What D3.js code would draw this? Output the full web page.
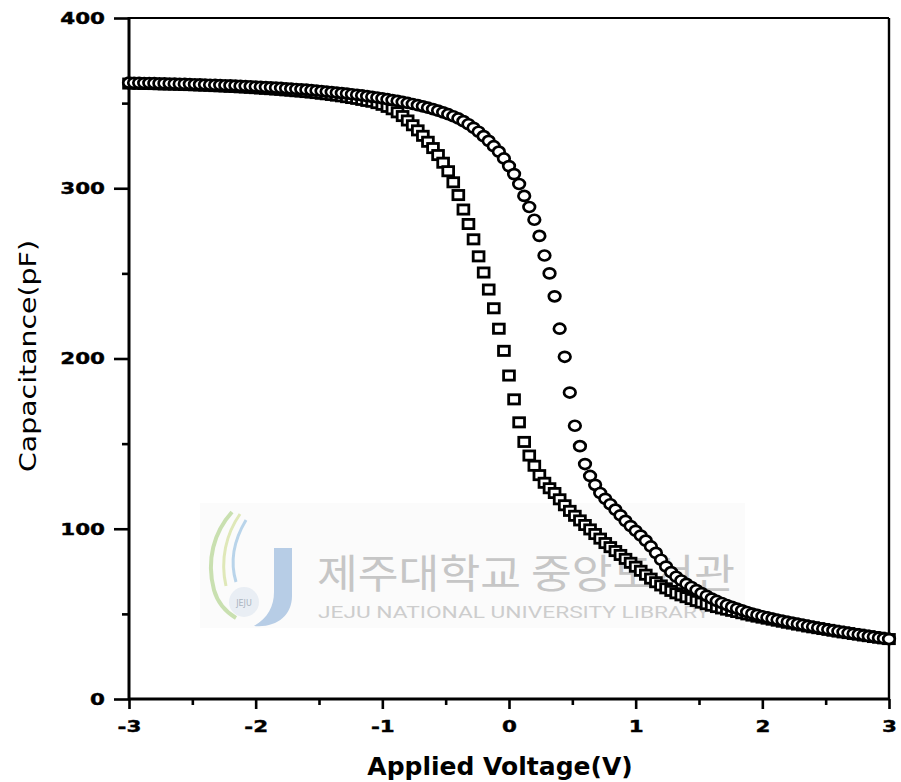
<!DOCTYPE html>
<html>
<head>
<meta charset="utf-8">
<script src="https://cdn.jsdelivr.net/npm/d3@7"></script>
<style>
  html, body { margin: 0; padding: 0; background: #fff; }
  svg { display: block; }
</style>
</head>
<body>
<svg id="chart" width="901" height="782"></svg>
<script>
// C-V sweep: bias from -3 V to +3 V in 0.04 V steps
const voltStart = -3;
const voltStep = 0.04;

// Capacitance (pF), square markers
const squareCap = [
  361.5, 361.5, 361.4, 361.3, 361.3, 361.2, 361.1, 361.0, 361.0, 360.9,
  360.8, 360.7, 360.6, 360.5, 360.4, 360.3, 360.2, 360.0, 359.9, 359.8,
  359.6, 359.5, 359.3, 359.2, 359.0, 358.8, 358.6, 358.4, 358.2, 358.0,
  357.8, 357.5, 357.3, 357.0, 356.8, 356.5, 356.2, 355.9, 355.5, 355.2,
  354.8, 354.4, 354.0, 353.5, 353.0, 352.5, 351.9, 351.3, 350.8, 350.0,
  349.0, 347.8, 346.4, 344.6, 342.4, 339.8, 337.0, 334.0, 330.8, 327.3,
  323.6, 319.5, 315.0, 310.0, 303.5, 296.0, 287.5, 279.0, 270.0, 260.0,
  250.5, 240.5, 229.5, 217.5, 204.5, 190.0, 176.0, 162.5, 151.0, 143.0,
  137.0, 131.5, 127.0, 123.8, 121.0, 117.3, 113.8, 110.5, 107.6, 104.9,
  102.2, 99.6, 96.9, 94.2, 91.6, 89.2, 86.9, 84.6, 82.3, 80.0,
  77.7, 75.3, 73.0, 70.7, 68.6, 66.7, 65.0, 63.5, 62.1, 60.9,
  59.8, 58.7, 57.6, 56.6, 55.7, 54.8, 54.0, 53.2, 52.5, 51.8,
  51.1, 50.4, 49.7, 49.0, 48.4, 47.8, 47.2, 46.6, 46.0, 45.4,
  44.8, 44.3, 43.7, 43.2, 42.6, 42.1, 41.6, 41.1, 40.6, 40.1,
  39.6, 39.1, 38.7, 38.2, 37.8, 37.3, 36.9, 36.4, 36.0, 35.6,
  35.2
];

// Capacitance (pF), circle markers
const circleCap = [
  362.0, 361.9, 361.9, 361.8, 361.8, 361.7, 361.6, 361.6, 361.5, 361.4,
  361.3, 361.3, 361.2, 361.1, 361.0, 360.9, 360.8, 360.7, 360.6, 360.5,
  360.4, 360.3, 360.1, 360.0, 359.9, 359.7, 359.6, 359.4, 359.3, 359.1,
  358.9, 358.7, 358.5, 358.3, 358.1, 357.9, 357.6, 357.4, 357.1, 356.8,
  356.5, 356.2, 355.9, 355.6, 355.2, 354.9, 354.5, 354.1, 353.7, 353.3,
  352.8, 352.3, 351.8, 351.3, 350.7, 350.1, 349.5, 348.8, 348.1, 347.3,
  346.5, 345.6, 344.6, 343.5, 342.3, 341.0, 339.4, 337.6, 335.5, 333.2,
  330.6, 327.8, 324.7, 321.5, 317.5, 313.0, 308.3, 302.5, 295.5, 289.0,
  281.5, 272.0, 260.5, 250.0, 236.5, 217.5, 201.0, 180.0, 160.5, 148.5,
  138.0, 131.0, 125.8, 121.0, 117.6, 114.4, 111.2, 107.9, 104.6, 101.6,
  98.8, 96.0, 93.0, 89.6, 85.8, 81.8, 77.8, 74.5, 71.8, 69.6,
  67.6, 65.8, 64.0, 62.2, 60.6, 59.0, 57.6, 56.4, 55.2, 54.1,
  53.1, 52.1, 51.1, 50.2, 49.4, 48.6, 47.9, 47.2, 46.5, 45.9,
  45.3, 44.7, 44.1, 43.5, 42.9, 42.4, 41.8, 41.3, 40.8, 40.3,
  39.8, 39.3, 38.8, 38.3, 37.9, 37.4, 36.9, 36.5, 36.0, 35.6,
  35.2
];

const xTicks = [-3, -2, -1, 0, 1, 2, 3];
const xMinorTicks = [-2.5, -1.5, -0.5, 0.5, 1.5, 2.5];
const yTicks = [0, 100, 200, 300, 400];
const yMinorTicks = [50, 150, 250, 350];

const xTitle = "Applied Voltage(V)";
const yTitle = "Capacitance(pF)";
const wmKorean = "제주대학교 중앙도서관";
const wmEnglish = "JEJU NATIONAL UNIVERSITY  LIBRARY";

const svg = d3.select("#chart");
const plotL = 129, plotR = 889, plotT = 18, plotB = 699;

const x = d3.scaleLinear().domain([-3, 3]).range([plotL, plotR]);
const y = d3.scaleLinear().domain([0, 400]).range([plotB, plotT]);

svg.append("rect").attr("width", 901).attr("height", 782).attr("fill", "#fff");

// Faint library watermark behind the data
const wm = svg.append("g").attr("class", "watermark");
wm.append("rect")
  .attr("x", 200).attr("y", 503).attr("width", 545).attr("height", 125)
  .attr("fill", "#fbfbfb");
wm.append("path")
  .attr("d", "M232,512 C214,532 206,560 214,590 C218,604 226,612 236,618")
  .attr("fill", "none").attr("stroke", "#c9e0b0").attr("stroke-width", 4);
wm.append("path")
  .attr("d", "M240,514 C226,534 220,560 226,586")
  .attr("fill", "none").attr("stroke", "#dfe8b8").attr("stroke-width", 3);
wm.append("path")
  .attr("d", "M246,520 C234,540 230,562 236,582")
  .attr("fill", "none").attr("stroke", "#b9d4ea").attr("stroke-width", 3);
wm.append("path")
  .attr("d", "M274,548 L292,548 L292,596 C292,616 276,628 254,626 C268,618 274,606 274,592 Z")
  .attr("fill", "#b7cde6");
wm.append("circle").attr("cx", 244).attr("cy", 602).attr("r", 15).attr("fill", "#e9eef4");
wm.append("text")
  .attr("x", 244).attr("y", 606).attr("text-anchor", "middle")
  .attr("font-family", "DejaVu Sans").attr("font-size", 8).attr("fill", "#aab4c0")
  .text("JEJU");
wm.append("text")
  .attr("x", 317).attr("y", 588)
  .attr("font-family", "'Noto Sans CJK KR'").attr("font-size", 40)
  .attr("fill", "#c6c6c6")
  .attr("textLength", 418).attr("lengthAdjust", "spacingAndGlyphs")
  .text(wmKorean);
wm.append("text")
  .attr("x", 318).attr("y", 618)
  .attr("font-family", "Roboto, 'Liberation Sans'").attr("font-size", 16)
  .attr("fill", "#cdcdcd")
  .attr("textLength", 392).attr("lengthAdjust", "spacingAndGlyphs")
  .text(wmEnglish);

// Axes
const labelFont = "'DejaVu Sans', sans-serif";
function styleTicks(g) {
  g.select(".domain").remove();
  g.selectAll(".tick line").attr("stroke", "#000").attr("stroke-width", 2.6);
  g.selectAll(".tick text")
    .attr("font-family", labelFont).attr("font-weight", "bold")
    .attr("font-size", 16.5).attr("fill", "#000")
    .attr("stroke", "#000").attr("stroke-width", 0.4);
}

const yAxis = svg.append("g").attr("transform", `translate(${plotL},0)`)
  .call(d3.axisLeft(y).tickValues(yTicks).tickSize(15).tickPadding(9).tickFormat(d3.format("d")));
styleTicks(yAxis);
const yMinor = svg.append("g").attr("transform", `translate(${plotL},0)`)
  .call(d3.axisLeft(y).tickValues(yMinorTicks).tickSize(7).tickFormat(""));
styleTicks(yMinor);

const xAxis = svg.append("g").attr("transform", `translate(0,${plotB})`)
  .call(d3.axisBottom(x).tickValues(xTicks).tickSize(10).tickPadding(11)
    .tickFormat(d => d < 0 ? "-" + Math.abs(d) : String(d)));
styleTicks(xAxis);
const xMinor = svg.append("g").attr("transform", `translate(0,${plotB})`)
  .call(d3.axisBottom(x).tickValues(xMinorTicks).tickSize(6).tickFormat(""));
styleTicks(xMinor);

// widen the tick numerals
svg.selectAll(".tick text").each(function () {
  const len = this.getComputedTextLength();
  if (len > 0) {
    d3.select(this).attr("textLength", len * 1.3).attr("lengthAdjust", "spacingAndGlyphs");
  }
});

// Frame
const frame = svg.append("g").attr("stroke", "#000").attr("fill", "none");
frame.append("line").attr("x1", plotL).attr("x2", plotR).attr("y1", plotT).attr("y2", plotT).attr("stroke-width", 2);
frame.append("line").attr("x1", plotR).attr("x2", plotR).attr("y1", plotT).attr("y2", plotB).attr("stroke-width", 2.4);
frame.append("line").attr("x1", plotL).attr("x2", plotL).attr("y1", plotT - 1).attr("y2", plotB + 1).attr("stroke-width", 3);
frame.append("line").attr("x1", plotL - 1).attr("x2", plotR + 1).attr("y1", plotB).attr("y2", plotB).attr("stroke-width", 3);

// Data points
const volt = i => voltStart + i * voltStep;
const sqData = squareCap.map((c, i) => ({ v: volt(i), c }));
const ciData = circleCap.map((c, i) => ({ v: volt(i), c }));

svg.append("g").selectAll("rect").data(sqData).join("rect")
  .attr("x", d => x(d.v) - 5.4).attr("y", d => y(d.c) - 4.6)
  .attr("width", 10.8).attr("height", 9.2)
  .attr("fill", "#fff").attr("stroke", "#000").attr("stroke-width", 2.8);

svg.append("g").selectAll("ellipse").data(ciData).join("ellipse")
  .attr("cx", d => x(d.v)).attr("cy", d => y(d.c))
  .attr("rx", 5.8).attr("ry", 5)
  .attr("fill", "#fff").attr("stroke", "#000").attr("stroke-width", 2.7);

// Titles
svg.append("text")
  .attr("x", 500).attr("y", 775).attr("text-anchor", "middle")
  .attr("font-family", labelFont).attr("font-weight", "bold").attr("font-size", 25)
  .attr("fill", "#000").text(xTitle);

svg.append("text")
  .attr("transform", "translate(36,356) rotate(-90)")
  .attr("text-anchor", "middle")
  .attr("font-family", labelFont).attr("font-size", 23)
  .attr("fill", "#000")
  .attr("textLength", 232).attr("lengthAdjust", "spacingAndGlyphs")
  .text(yTitle);
</script>
</body>
</html>
